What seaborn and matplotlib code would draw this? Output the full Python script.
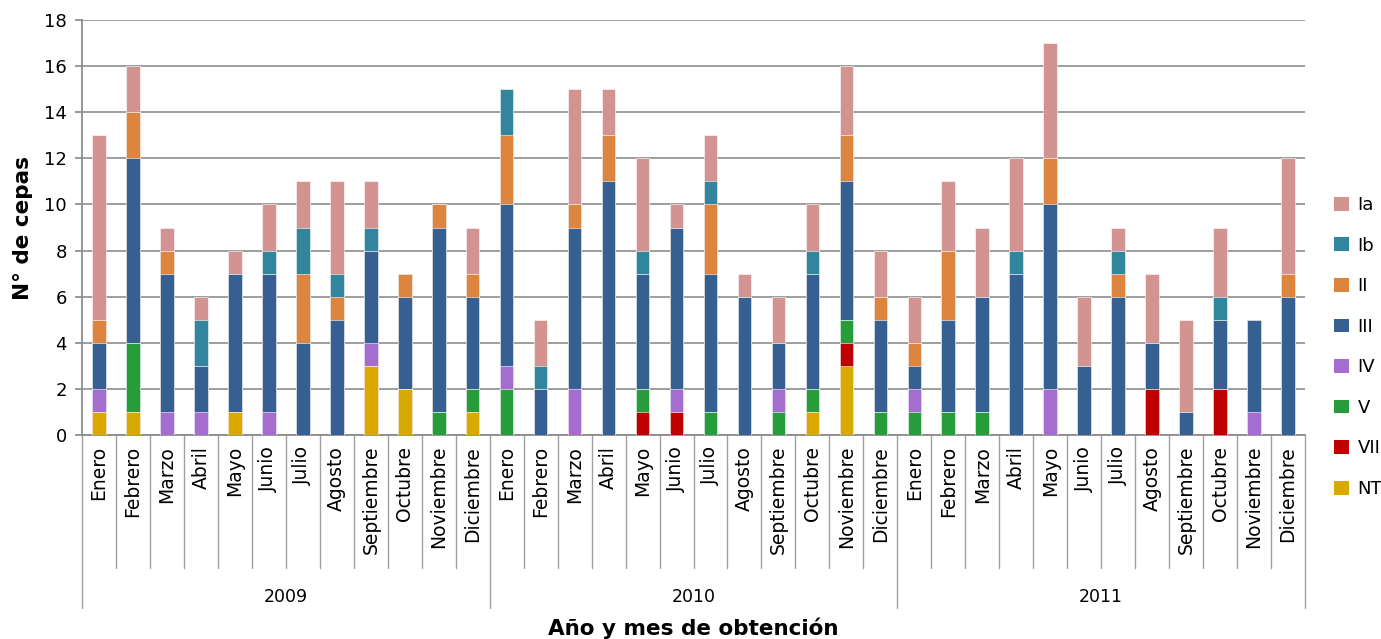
import numpy as np
import pandas as pd
import matplotlib
matplotlib.use("Agg")
import matplotlib.pyplot as plt
import matplotlib.transforms as mtransforms
from matplotlib.patches import Patch
import seaborn as sns

years = ["2009", "2010", "2011"]
months = ["Enero", "Febrero", "Marzo", "Abril", "Mayo", "Junio", "Julio",
          "Agosto", "Septiembre", "Octubre", "Noviembre", "Diciembre"]
serotypes = ["Ia", "Ib", "II", "III", "IV", "V", "VII", "NT"]

Ia  = [8, 2, 1, 1, 1, 2, 2, 4, 2, 0, 0, 2,  0, 2, 5, 2, 4, 1, 2, 1, 2, 2, 3, 2,  2, 3, 3, 4, 5, 3, 1, 3, 4, 3, 0, 5]
Ib  = [0, 0, 0, 2, 0, 1, 2, 1, 1, 0, 0, 0,  2, 1, 0, 0, 1, 0, 1, 0, 0, 1, 0, 0,  0, 0, 0, 1, 0, 0, 1, 0, 0, 1, 0, 0]
II  = [1, 2, 1, 0, 0, 0, 3, 1, 0, 1, 1, 1,  3, 0, 1, 2, 0, 0, 3, 0, 0, 0, 2, 1,  1, 3, 0, 0, 2, 0, 1, 0, 0, 0, 0, 1]
III = [2, 8, 6, 2, 6, 6, 4, 5, 4, 4, 8, 4,  7, 2, 7, 11, 5, 7, 6, 6, 2, 5, 6, 4,  1, 4, 5, 7, 8, 3, 6, 2, 1, 3, 4, 6]
IV  = [1, 0, 1, 1, 0, 1, 0, 0, 1, 0, 0, 0,  1, 0, 2, 0, 0, 1, 0, 0, 1, 0, 0, 0,  1, 0, 0, 0, 2, 0, 0, 0, 0, 0, 1, 0]
V   = [0, 3, 0, 0, 0, 0, 0, 0, 0, 0, 1, 1,  2, 0, 0, 0, 1, 0, 1, 0, 1, 1, 1, 1,  1, 1, 1, 0, 0, 0, 0, 0, 0, 0, 0, 0]
VII = [0, 0, 0, 0, 0, 0, 0, 0, 0, 0, 0, 0,  0, 0, 0, 0, 1, 1, 0, 0, 0, 0, 1, 0,  0, 0, 0, 0, 0, 0, 0, 2, 0, 2, 0, 0]
NT  = [1, 1, 0, 0, 1, 0, 0, 0, 3, 2, 0, 1,  0, 0, 0, 0, 0, 0, 0, 0, 0, 1, 3, 0,  0, 0, 0, 0, 0, 0, 0, 0, 0, 0, 0, 0]

colors = {"Ia": "#D39391", "Ib": "#31859C", "II": "#DD843F", "III": "#366092",
          "IV": "#A66DD0", "V": "#279C3A", "VII": "#C00000", "NT": "#D9A900"}

series = {"Ia": Ia, "Ib": Ib, "II": II, "III": III, "IV": IV, "V": V, "VII": VII, "NT": NT}
n = len(years) * len(months)
df = pd.DataFrame({"pos": list(range(n))})
# stacking bottom -> top: NT, VII, V, IV, III, II, Ib, Ia
stack_order = ["NT", "VII", "V", "IV", "III", "II", "Ib", "Ia"]
cum = np.zeros(n)
for s in stack_order:
    cum = cum + np.array(series[s])
    df["cum_" + s] = cum.copy()

sns.set_theme(style="white")
plt.rcParams["font.family"] = ["DejaVu Sans"]
plt.rcParams["text.color"] = "black"
plt.rcParams["axes.labelcolor"] = "black"
plt.rcParams["ytick.color"] = "black"

fig = plt.figure(figsize=(13.81, 6.39), dpi=100)
L, R, T, B = 82, 1305, 20, 435
ax = fig.add_axes([L / 1381, 1 - B / 639, (R - L) / 1381, (B - T) / 639])

for s in reversed(stack_order):  # tallest first
    sns.barplot(data=df, x="pos", y="cum_" + s, color=colors[s], saturation=1,
                width=0.4, errorbar=None, ax=ax, edgecolor="white", linewidth=0.4,
                zorder=3)

ax.set_xlim(-0.5, n - 0.5)
ax.set_ylim(0, 18)
ax.set_yticks(range(0, 19, 2))
ax.tick_params(axis="y", labelsize=13, length=5, color="#8C8C8C", labelcolor="black",
               left=True, pad=6)
ax.set_xticks([])
ax.set_xlabel("")
ax.set_ylabel("N° de cepas", fontsize=15.5, fontweight="bold", labelpad=8, color="black")
ax.yaxis.grid(True, color="#969696", linewidth=1.3, zorder=0)
ax.set_axisbelow(True)
for sp in ["top", "right"]:
    ax.spines[sp].set_visible(False)
for sp in ["left", "bottom"]:
    ax.spines[sp].set_color("#8C8C8C")
    ax.spines[sp].set_linewidth(1.3)

trans = mtransforms.blended_transform_factory(ax.transData, ax.transAxes)
# category labels
for i in range(n):
    ax.text(i, -0.026, months[i % 12], rotation=90, ha="center", va="top",
            fontsize=13.5, transform=trans, color="black")
# separators
for k in range(n + 1):
    x = k - 0.5
    ybot = -0.417 if k % 12 == 0 else -0.320
    ax.plot([x, x], [0, ybot], color="#A0A0A0", linewidth=1.0, transform=trans,
            clip_on=False)
for j, y in enumerate(years):
    ax.text(j * 12 + 5.5, -0.390, y, ha="center", va="center", fontsize=12.5,
            transform=trans, color="black")

fig.text((L + R) / 2 / 1381, 1 - 628 / 639, "Año y mes de obtención", ha="center",
         va="center", fontsize=15.5, fontweight="bold", color="black")

handles = [Patch(facecolor=colors[s], edgecolor="none") for s in serotypes]
fig.legend(handles, serotypes, loc="center left", bbox_to_anchor=(1327 / 1381, 1 - 347 / 639),
           frameon=False, fontsize=13, handlelength=0.8, handleheight=0.8,
           labelspacing=1.25, handletextpad=0.5, borderaxespad=0, labelcolor="black")

fig.savefig("out.png", dpi=100)
